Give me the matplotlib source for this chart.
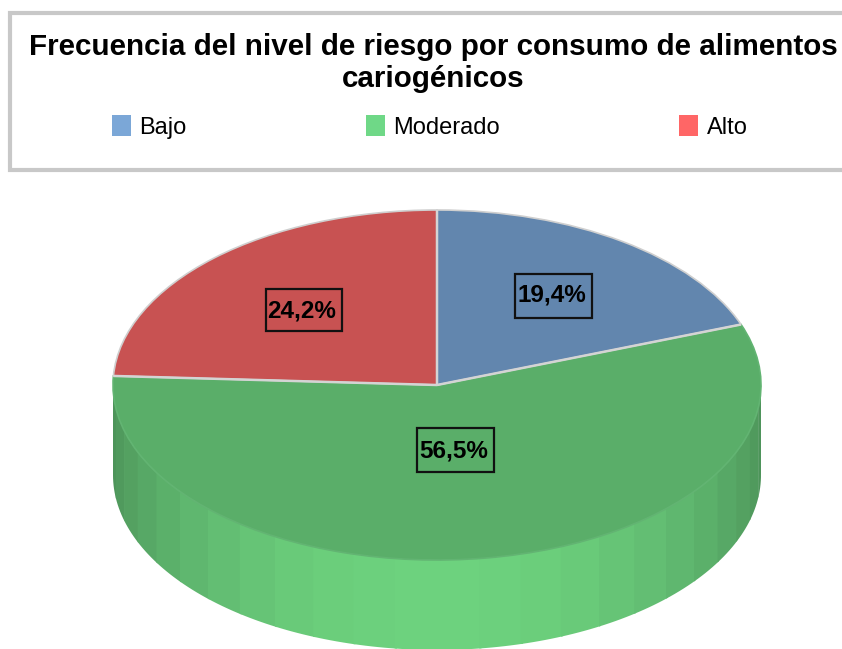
import numpy as np
import matplotlib
matplotlib.use('Agg')
import matplotlib.pyplot as plt
from matplotlib.patches import Patch, Rectangle
from matplotlib.colors import to_rgb

title = 'Frecuencia del nivel de riesgo por consumo de alimentos\ncariogénicos'
categories = ['Bajo', 'Moderado', 'Alto']
values = [19.4, 56.5, 24.2]
value_labels = ['19,4%', '56,5%', '24,2%']

top_colors = ['#6286AE', '#5AAE69', '#C85252']
legend_colors = ['#7BA7D7', '#6FD887', '#FF6666']

W, H = 842, 649
cx, cy, rx, ry = 437, 385, 324, 175   # ellipse of the pie top, in pixels
depth = 90 / ry

plt.rcParams['font.family'] = ['Liberation Sans', 'DejaVu Sans']

fig = plt.figure(figsize=(W / 100, H / 100), dpi=100)
ax = fig.add_axes([0, 0, 1, 1])

wedges, _ = ax.pie(values, colors=top_colors, startangle=90, counterclock=False,
                   normalize=True, radius=1,
                   wedgeprops=dict(edgecolor='#cfcfcf', linewidth=1.2, zorder=3))
wedges[1].set_edgecolor('#62b472')
wedges[1].set_zorder(2.5)

# pie is squashed into an ellipse by the axes limits
ax.set_aspect('auto')
ax.set_xlim((0 - cx) / rx, (W - cx) / rx)
ax.set_ylim((cy - H) / ry, cy / ry)
ax.axis('off')

# light lines between the slices
for w in wedges:
    t = np.radians(w.theta1)
    ax.plot([0, np.cos(t)], [0, np.sin(t)], color='#d4d4d4', lw=1.8, zorder=4,
            solid_capstyle='butt')

# side wall of the green slice, in flat shaded bands
dark = np.array(to_rgb('#4C9259'))
light = np.array(to_rgb('#6DD27E'))
edges = np.linspace(-180, 0, 25)
for a, b in zip(edges[:-1], edges[1:]):
    t = np.radians(np.linspace(a, b + 0.4, 8))
    x = np.cos(t)
    y = np.sin(t)
    mid = abs(np.sin(np.radians((a + b) / 2)))
    col = dark + (light - dark) * mid ** 1.3
    ax.fill(np.r_[x, x[::-1]], np.r_[y, y[::-1] - depth], color=col, lw=0, zorder=2)

# percent labels, frame drawn apart because it is not centred on the text
label_pos = [(552, 295), (454, 451), (302, 311)]
frames = [(515, 274, 592, 318), (417, 428, 494, 472), (266, 289, 342, 331)]
for txt, (px, py), (x0, y0, x1, y1) in zip(value_labels, label_pos, frames):
    ax.text((px - cx) / rx, (cy - py) / ry, txt, ha='center', va='center',
            fontsize=17.5, fontweight='bold', color='black', zorder=5)
    ax.add_patch(Rectangle(((x0 - cx) / rx, (cy - y1) / ry), (x1 - x0) / rx, (y1 - y0) / ry,
                           fc='none', ec='#111111', lw=1.6, zorder=5))

# title box, runs off the right side of the image
fig.add_artist(Rectangle((10 / W, 1 - 170 / H), 840 / W, 157 / H, transform=fig.transFigure,
                         fc='white', ec='#c8c8c8', lw=3, zorder=6))
fig.text(433.5 / W, 1 - 63 / H, title, ha='center', va='center', fontsize=21.3,
         fontweight='bold', color='black', linespacing=1.2, zorder=7)

handles = [Patch(fc=c, ec='none') for c in legend_colors]
leg = fig.legend(handles, categories, ncol=3, frameon=False, fontsize=17,
                 loc='center left', bbox_to_anchor=(91 / W, 1 - 127 / H),
                 bbox_transform=fig.transFigure, columnspacing=7.6,
                 handlelength=0.8, handleheight=1.0, handletextpad=0.35)
leg.set_zorder(8)

fig.savefig('out.png', dpi=100)
